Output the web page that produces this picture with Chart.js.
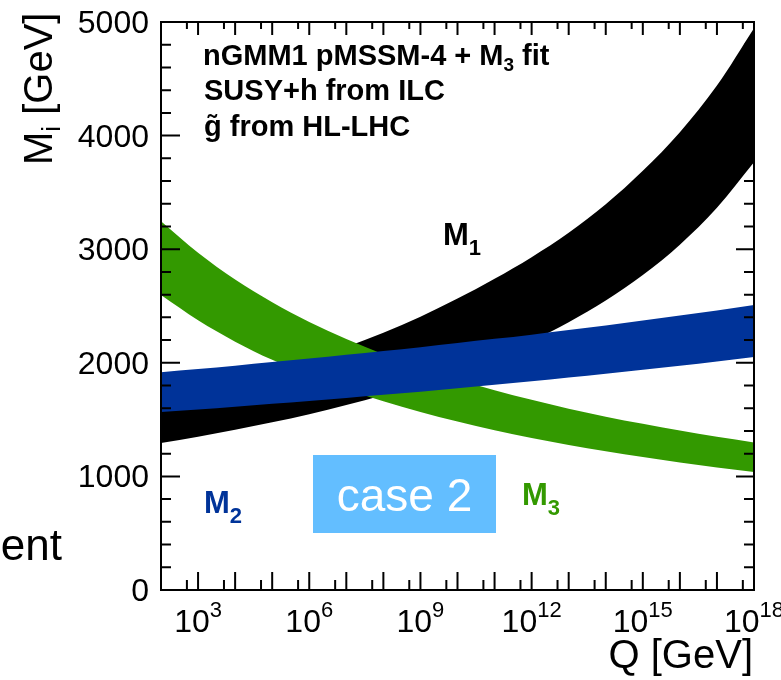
<!DOCTYPE html>
<html>
<head>
<meta charset="utf-8">
<script src="https://cdn.jsdelivr.net/npm/chart.js"></script>
<style>
  html, body { margin: 0; padding: 0; background: #fff; }
  canvas { display: block; }
</style>
</head>
<body>
<canvas id="running-chart" width="781" height="680"></canvas>
<script>
const runningChart = document.querySelector("#running-chart");

// scale Q in GeV, one point per decade
const scaleQ = [1e2, 1e3, 1e4, 1e5, 1e6, 1e7, 1e8, 1e9, 1e10, 1e11, 1e12, 1e13, 1e14, 1e15, 1e16, 1e17, 1e18];

// band edges (GeV)
const m1Low = [1294, 1349, 1410, 1476, 1548, 1628, 1717, 1816, 1926, 2052, 2194, 2358, 2549, 2773, 3040, 3365, 3766];
const m1High = [1695, 1767, 1847, 1934, 2030, 2140, 2265, 2405, 2565, 2740, 2930, 3145, 3395, 3690, 4030, 4440, 4945];
const m2Low = [1566, 1589, 1613, 1639, 1664, 1691, 1718, 1746, 1776, 1806, 1837, 1870, 1903, 1938, 1974, 2011, 2050];
const m2High = [1917, 1945, 1974, 2006, 2037, 2070, 2103, 2137, 2174, 2211, 2248, 2289, 2329, 2372, 2416, 2461, 2509];
const m3Low = [2596, 2374, 2186, 2026, 1888, 1767, 1661, 1567, 1483, 1407, 1339, 1277, 1221, 1170, 1122, 1078, 1038];
const m3High = [3245, 2968, 2733, 2533, 2360, 2209, 2076, 1959, 1854, 1759, 1674, 1596, 1526, 1463, 1403, 1348, 1298];

const xTickPowers = ["3", "6", "9", "12", "15", "18"];
const yTickLabels = ["0", "1000", "2000", "3000", "4000", "5000"];

const black = "#000000";
const blue = "#003399";
const green = "#339900";
const font = "'Liberation Sans', Arial, Helvetica, sans-serif";

const toPoints = (values) => values.map((v, i) => ({ x: scaleQ[i], y: v }));

const bandDatasets = (low, high, color, order) => [
  {
    data: toPoints(low),
    fill: false,
    order: order,
    borderWidth: 0,
    borderColor: "rgba(0,0,0,0)",
    pointRadius: 0,
  },
  {
    data: toPoints(high),
    fill: "-1",
    order: order,
    backgroundColor: color,
    borderWidth: 0,
    borderColor: "rgba(0,0,0,0)",
    pointRadius: 0,
  },
];

// draw a run of text pieces (base, sub, sup) one after the other
const drawParts = (ctx, parts, x, y, align) => {
  let width = 0;
  parts.forEach((p) => {
    ctx.font = p.font;
    width += ctx.measureText(p.text).width;
  });
  let cx = x;
  if (align === "center") cx = x - width / 2;
  if (align === "right") cx = x - width;
  ctx.textAlign = "left";
  ctx.textBaseline = "alphabetic";
  parts.forEach((p) => {
    ctx.font = p.font;
    ctx.fillText(p.text, cx, y + (p.dy || 0));
    cx += ctx.measureText(p.text).width;
  });
};

const axisFrame = {
  id: "axisFrame",
  afterDraw(chart) {
    const { ctx, chartArea: area } = chart;
    const xs = chart.scales.x;
    const ys = chart.scales.y;
    ctx.save();
    ctx.strokeStyle = "#000";
    ctx.lineWidth = 2;
    ctx.beginPath();
    for (let p = 2; p <= 18; p++) {
      const px = xs.getPixelForValue(Math.pow(10, p));
      ctx.moveTo(px, area.bottom);
      ctx.lineTo(px, area.bottom - 18);
      ctx.moveTo(px, area.top);
      ctx.lineTo(px, area.top + 13);
      if (p < 18) {
        const mx = xs.getPixelForValue(5 * Math.pow(10, p));
        ctx.moveTo(mx, area.bottom);
        ctx.lineTo(mx, area.bottom - 10);
        ctx.moveTo(mx, area.top);
        ctx.lineTo(mx, area.top + 7);
      }
    }
    for (let v = 0; v <= 5000; v += 200) {
      const py = ys.getPixelForValue(v);
      const major = v % 1000 === 0;
      ctx.moveTo(area.left, py);
      ctx.lineTo(area.left + (major ? 19 : 10), py);
      ctx.moveTo(area.right, py);
      ctx.lineTo(area.right - (major ? 18 : 10), py);
    }
    ctx.stroke();
    ctx.strokeRect(area.left, area.top, area.right - area.left, area.bottom - area.top);

    ctx.fillStyle = "#000";
    yTickLabels.forEach((label) => {
      const py = ys.getPixelForValue(Number(label));
      drawParts(ctx, [{ text: label, font: `32px ${font}` }], 149, py + 11, "right");
    });
    xTickPowers.forEach((p) => {
      const px = xs.getPixelForValue(Math.pow(10, Number(p)));
      drawParts(ctx, [
        { text: "10", font: `32px ${font}` },
        { text: p, font: `22px ${font}`, dy: -15 },
      ], px, 632, "center");
    });

    drawParts(ctx, [{ text: "Q [GeV]", font: `40px ${font}` }], 753, 668, "right");

    ctx.save();
    ctx.translate(52, 165);
    ctx.rotate(-Math.PI / 2);
    drawParts(ctx, [
      { text: "M", font: `40px ${font}` },
      { text: "i", font: `26px ${font}`, dy: 8 },
      { text: " [GeV]", font: `40px ${font}` },
    ], 0, 0, "left");
    ctx.restore();

    // labels inside the frame
    const bold = `bold 29px ${font}`;
    drawParts(ctx, [
      { text: "nGMM1 pMSSM-4 + M", font: bold },
      { text: "3", font: `bold 19px ${font}`, dy: 6 },
      { text: " fit", font: bold },
    ], 203, 65, "left");
    drawParts(ctx, [{ text: "SUSY+h from ILC", font: bold }], 204, 100, "left");
    drawParts(ctx, [{ text: "g\u0303 from HL-LHC", font: bold }], 204, 136, "left");

    const bandLabel = (sub, color, x, y) => {
      ctx.fillStyle = color;
      drawParts(ctx, [
        { text: "M", font: `bold 31px ${font}` },
        { text: sub, font: `bold 22px ${font}`, dy: 10 },
      ], x, y, "left");
    };
    bandLabel("1", black, 443, 245);
    bandLabel("2", blue, 204, 513);
    bandLabel("3", green, 522, 505);

    ctx.fillStyle = "#63BEFF";
    ctx.fillRect(313, 455, 183, 78);
    ctx.fillStyle = "#fff";
    drawParts(ctx, [{ text: "case 2", font: `46px ${font}` }], 404.5, 511, "center");

    ctx.fillStyle = "#000";
    drawParts(ctx, [{ text: "ent", font: `44px ${font}` }], 62, 560, "right");
    ctx.restore();
  },
};

const renderChart = () => {
  new Chart(runningChart, {
    type: "line",
    data: {
      datasets: [
        ...bandDatasets(m2Low, m2High, blue, 0),
        ...bandDatasets(m3Low, m3High, green, 1),
        ...bandDatasets(m1Low, m1High, black, 2),
      ],
    },
    options: {
      responsive: false,
      animation: false,
      events: [],
      layout: { padding: { left: 161, right: 27, top: 22, bottom: 90 } },
      elements: { line: { cubicInterpolationMode: "monotone" } },
      plugins: { legend: { display: false }, tooltip: { enabled: false } },
      scales: {
        x: { type: "logarithmic", min: 1e2, max: 1e18, display: false },
        y: { type: "linear", min: 0, max: 5000, display: false },
      },
    },
    plugins: [axisFrame],
  });
};

document.addEventListener("DOMContentLoaded", function () {
  renderChart();
});
</script>
</body>
</html>
